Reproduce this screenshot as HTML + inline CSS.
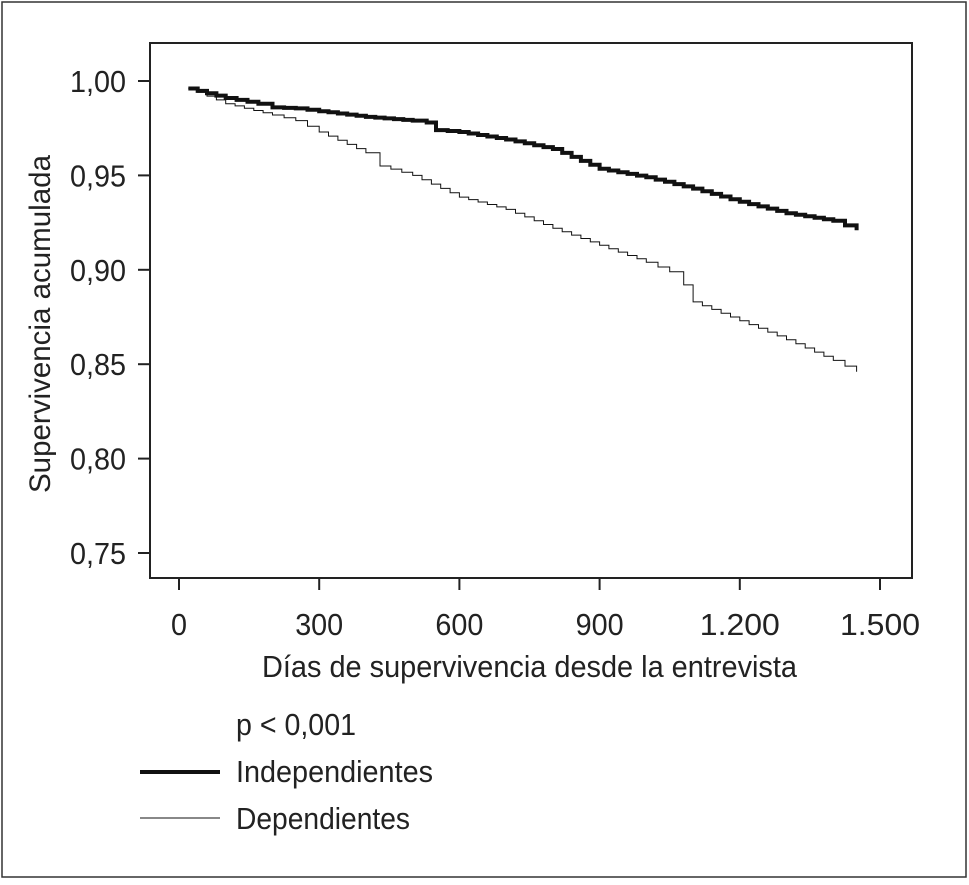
<!DOCTYPE html>
<html><head><meta charset="utf-8"><style>
html,body{margin:0;padding:0;background:#fff;}
body{width:969px;height:880px;overflow:hidden;}
svg text{font-family:"Liberation Sans Narrow","Liberation Sans",sans-serif;fill:#222;}
</style></head><body>
<svg id="chart" width="969" height="880">
<rect x="2" y="2" width="964" height="875" fill="none" stroke="#333" stroke-width="1.5"/>
<rect x="150" y="43" width="762" height="535" fill="none" stroke="#222" stroke-width="2"/>
<g id="axes"></g>
<g id="series"></g>
<text x="0" y="0" transform="translate(50,324) rotate(-90)" text-anchor="middle" font-size="30" textLength="338" lengthAdjust="spacingAndGlyphs">Supervivencia acumulada</text>
<text x="262" y="677" font-size="31" textLength="535" lengthAdjust="spacingAndGlyphs">Días de supervivencia desde la entrevista</text>
<text x="236" y="735" font-size="31" textLength="120" lengthAdjust="spacingAndGlyphs">p &lt; 0,001</text>
<line x1="140" y1="772" x2="220" y2="772" stroke="#111" stroke-width="4"/>
<text x="236" y="782" font-size="31" textLength="197" lengthAdjust="spacingAndGlyphs">Independientes</text>
<line x1="140" y1="818" x2="220" y2="818" stroke="#111" stroke-width="1"/>
<text x="236" y="829" font-size="31" textLength="174" lengthAdjust="spacingAndGlyphs">Dependientes</text>
</svg>
<script>
const xTicks=[0,300,600,900,1200,1500];
const xTickLabels=["0","300","600","900","1.200","1.500"];
const yTicks=[1.00,0.95,0.90,0.85,0.80,0.75];
const yTickLabels=["1,00","0,95","0,90","0,85","0,80","0,75"];
const indepDays=[20,100,170,200,250,300,400,500,530,550,600,700,800,900,1000,1100,1200,1300,1400,1450];
const indepSurv=[0.996,0.991,0.988,0.986,0.9855,0.984,0.981,0.979,0.978,0.974,0.973,0.969,0.964,0.9535,0.949,0.943,0.936,0.930,0.926,0.921];
const depDays=[20,100,200,250,300,400,430,500,600,700,800,900,1000,1050,1080,1100,1200,1300,1400,1450];
const depSurv=[0.996,0.988,0.982,0.979,0.973,0.962,0.955,0.950,0.9385,0.932,0.922,0.913,0.904,0.899,0.892,0.883,0.873,0.863,0.852,0.846];
const NS='http://www.w3.org/2000/svg';
const xs=d=>179+d*(701/1500);
const ys=v=>81+(1-v)/0.05*94.4;
const axes=document.getElementById('axes');
xTicks.forEach((t,i)=>{
 const l=document.createElementNS(NS,'line');
 l.setAttribute('x1',xs(t));l.setAttribute('x2',xs(t));l.setAttribute('y1',578);l.setAttribute('y2',590);
 l.setAttribute('stroke','#222');l.setAttribute('stroke-width','2');
 
 
 axes.appendChild(l);
 const tx=document.createElementNS(NS,'text');
 tx.setAttribute('x',xs(t));tx.setAttribute('y',635);tx.setAttribute('text-anchor','middle');tx.setAttribute('font-size','31');
 tx.setAttribute('textLength',String(xTickLabels[i].length*16));tx.setAttribute('lengthAdjust','spacingAndGlyphs');
 tx.textContent=xTickLabels[i];
 
 
 axes.appendChild(tx);
});
yTicks.forEach((t,i)=>{
 const l=document.createElementNS(NS,'line');
 l.setAttribute('x1',138);l.setAttribute('x2',150);l.setAttribute('y1',ys(t));l.setAttribute('y2',ys(t));
 l.setAttribute('stroke','#222');l.setAttribute('stroke-width','2');
 
 
 axes.appendChild(l);
 const tx=document.createElementNS(NS,'text');
 tx.setAttribute('x',70);tx.setAttribute('y',ys(t)+11);tx.setAttribute('font-size','31');
 tx.setAttribute('textLength','56');tx.setAttribute('lengthAdjust','spacingAndGlyphs');
 tx.textContent=yTickLabels[i];
 
 
 axes.appendChild(tx);
});
function stepPath(ds,vs){
 let d='M'+xs(ds[0])+','+ys(vs[0]);
 for(let i=1;i<ds.length;i++){
  const x0=xs(ds[i-1]),x1=xs(ds[i]),y0=ys(vs[i-1]),y1=ys(vs[i]);
  const n=Math.max(1,Math.round((x1-x0)/10));
  for(let k=1;k<=n;k++){
   const xx=x0+(x1-x0)*k/n, yy=y0+(y1-y0)*k/n;
   d+=' H'+xx.toFixed(1)+' V'+yy.toFixed(1);
  }
 }
 return d;
}
const g=document.getElementById('series');
const p1=document.createElementNS(NS,'path');
p1.setAttribute('d',stepPath(indepDays,indepSurv));
p1.setAttribute('fill','none');p1.setAttribute('stroke','#111');p1.setAttribute('stroke-width','4');


g.appendChild(p1);
const p2=document.createElementNS(NS,'path');
p2.setAttribute('d',stepPath(depDays,depSurv));
p2.setAttribute('fill','none');p2.setAttribute('stroke','#111');p2.setAttribute('stroke-width','1');


g.appendChild(p2);
</script>
</body></html>
